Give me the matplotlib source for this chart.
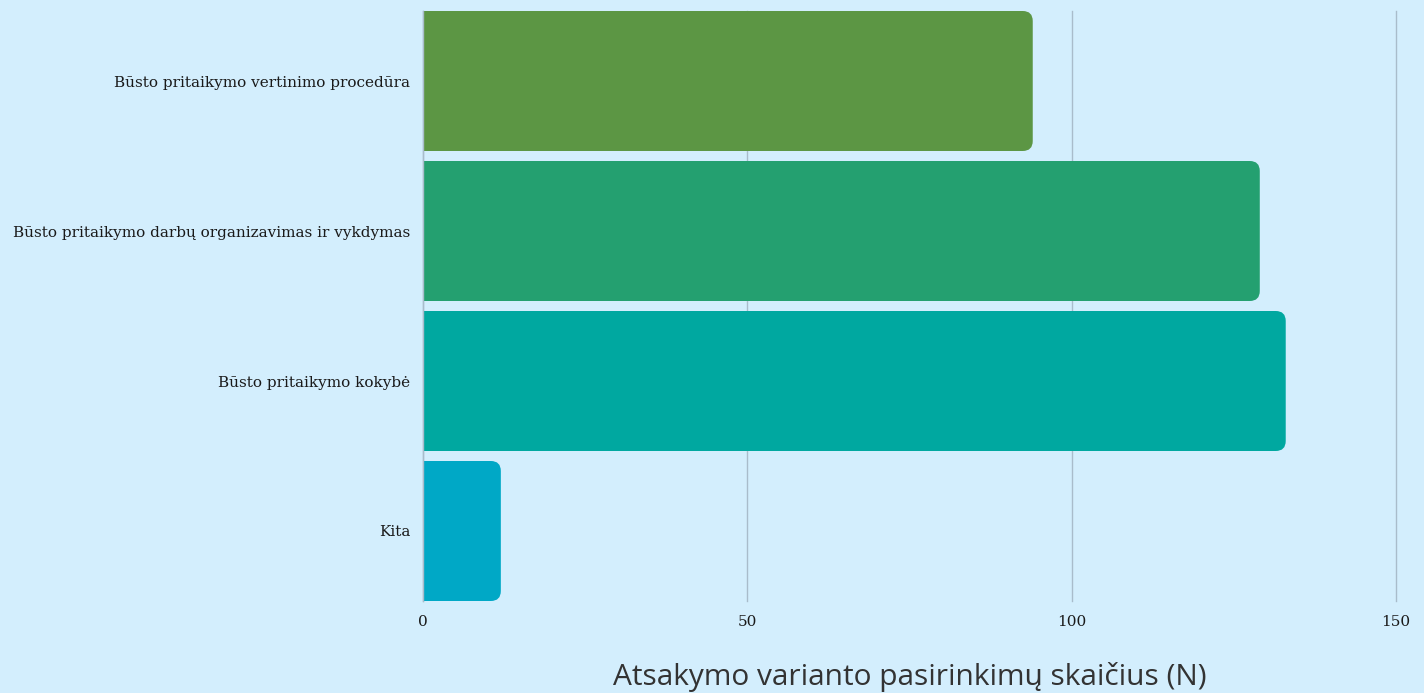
import matplotlib
matplotlib.use('Agg')
import matplotlib.pyplot as plt
from matplotlib.patches import FancyBboxPatch

categories = [
    "Būsto pritaikymo vertinimo procedūra",
    "Būsto pritaikymo darbų organizavimas ir vykdymas",
    "Būsto pritaikymo kokybė",
    "Kita",
]
values = [94, 129, 133, 12]
colors = ["#5c9644", "#24a070", "#00a8a0", "#00a8c6"]
xticks = [0, 50, 100, 150]
xlabel = "Atsakymo varianto pasirinkimų skaičius (N)"

bg = "#d3eefd"
grid_color = "#a9bccb"

fig = plt.figure(figsize=(14.24, 6.93), dpi=100, facecolor=bg)
# axes: x 423..1396 px, y 11..601 px (from top)
ax = fig.add_axes([423 / 1424, 1 - 601 / 693, (1396 - 423) / 1424, 590 / 693])
ax.set_facecolor(bg)

bar_h = 140 / 150
ypos = list(range(len(categories)))
bars = ax.barh(ypos, values, height=bar_h, color="none", edgecolor="none")

ax.set_xlim(0, 150)
ax.set_ylim(len(categories) - 1 + bar_h / 2, -bar_h / 2)

# replace bars with right-rounded boxes (left corners hidden past x=0 by clipping)
px_per_x = (1396 - 423) / 150
px_per_y = 150
r_px = 10
aspect = px_per_x / px_per_y
for rect, c in zip(bars.patches, colors):
    x0, y0 = rect.get_x(), rect.get_y()
    w, h = rect.get_width(), rect.get_height()
    r = r_px / px_per_x
    p = FancyBboxPatch((x0 - 2 * r, y0), w + 2 * r, h,
                       boxstyle=f"round,pad=0,rounding_size={r}",
                       mutation_aspect=aspect,
                       facecolor=c, edgecolor="none", zorder=3)
    ax.add_patch(p)

ax.set_xticks(xticks)
ax.set_yticks(ypos)
ax.set_yticklabels(categories)
ax.grid(axis="x", color=grid_color, linewidth=1, zorder=0)
for gl in ax.get_xgridlines():
    gl.set_clip_on(False)
ax.set_axisbelow(True)
ax.tick_params(axis="both", length=0, labelsize=11, labelcolor="#1a1a1a")
ax.tick_params(axis="y", pad=9)
ax.tick_params(axis="x", pad=10)
for lbl in ax.get_xticklabels() + ax.get_yticklabels():
    lbl.set_fontfamily("DejaVu Serif")

for s in ["top", "right", "bottom"]:
    ax.spines[s].set_visible(False)
ax.spines["left"].set_color(grid_color)
ax.spines["left"].set_linewidth(1)
ax.spines["left"].set_zorder(4)

ax.set_xlabel(xlabel, fontsize=21.5, color="#333333", fontfamily="Open Sans", labelpad=24)

fig.savefig("out.png", dpi=100, facecolor=bg)
